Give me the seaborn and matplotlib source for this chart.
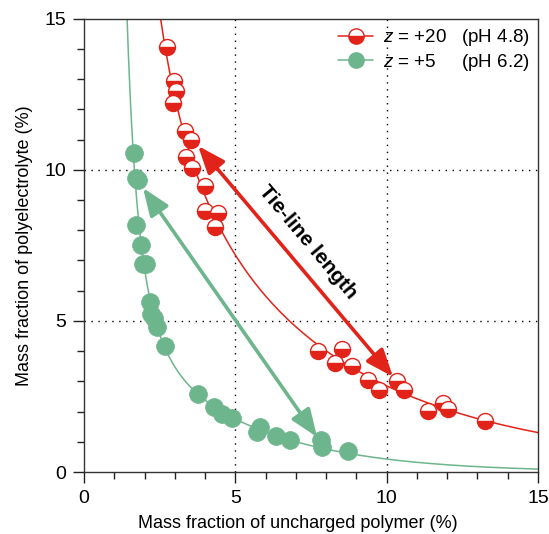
import numpy as np
import matplotlib
matplotlib.use("Agg")
import matplotlib.pyplot as plt
from matplotlib.lines import Line2D
from matplotlib.ticker import MultipleLocator
import seaborn as sns

# data (mass fractions, %)
red_x = [2.74, 2.97, 3.04, 2.94, 3.34, 3.53, 3.37, 3.57, 4.00, 4.00, 4.43, 4.33,
         7.73, 8.52, 8.29, 8.85, 9.38, 9.75, 10.34, 10.57, 11.36, 11.86, 12.03, 13.25]
red_y = [14.07, 12.95, 12.62, 12.22, 11.29, 10.99, 10.43, 10.07, 9.47, 8.64, 8.58, 8.11,
         4.00, 4.07, 3.61, 3.51, 3.05, 2.72, 3.01, 2.72, 2.02, 2.28, 2.09, 1.69]
green_x = [1.65, 1.72, 1.78, 1.72, 1.88, 1.95, 2.05, 2.18, 2.21, 2.31, 2.41, 2.68,
           3.77, 4.29, 4.56, 4.89, 5.72, 5.81, 6.34, 6.81, 7.83, 7.86, 8.72]
green_y = [10.56, 9.74, 9.67, 8.18, 7.52, 6.89, 6.89, 5.63, 5.23, 5.10, 4.80, 4.17,
           2.58, 2.15, 1.92, 1.79, 1.32, 1.49, 1.19, 1.06, 1.06, 0.83, 0.70]

# where the drawn binodal curves run outside the data
red_curve_x = [2.51, 15.0]
red_curve_y = [15.0, 1.30]
green_curve_x = [1.42, 9.37, 14.07, 15.0]
green_curve_y = [15.0, 0.45, 0.13, 0.10]

# tie lines (start, end)
red_tie = [(3.77, 10.79), (10.21, 3.15)]
green_tie = [(1.95, 9.40), (7.70, 1.16)]

red = "#e2231a"
green = "#6db58c"

sns.set_theme(style="ticks")
plt.rcParams["font.family"] = ["Liberation Sans", "DejaVu Sans"]
plt.rcParams["mathtext.fontset"] = "custom"
plt.rcParams["mathtext.it"] = "Liberation Sans:italic"
plt.rcParams["mathtext.rm"] = "Liberation Sans"
plt.rcParams["text.color"] = "black"
plt.rcParams["axes.labelcolor"] = "black"
plt.rcParams["xtick.labelcolor"] = "black"
plt.rcParams["ytick.labelcolor"] = "black"

fig = plt.figure(figsize=(5.49, 5.34), dpi=100)
ax = fig.add_axes([0.153, 0.116, 0.827, 0.849])


def binodal(xs, ys, cx, cy, lo, hi):
    # cubic fit in log-log space through data and curve ends
    lx = np.log(np.r_[xs, cx, cx, cx])
    ly = np.log(np.r_[ys, cy, cy, cy])
    c = np.polyfit(lx, ly, 3)
    xx = np.linspace(lo, hi, 400)
    return xx, np.exp(np.polyval(c, np.log(xx)))


gx, gy = binodal(green_x, green_y, green_curve_x, green_curve_y, 1.3, 15)
rx, ry = binodal(red_x, red_y, red_curve_x, red_curve_y, 2.3, 15)
sns.lineplot(x=gx, y=gy, color=green, lw=1.1, sort=False, estimator=None, ax=ax)
sns.lineplot(x=rx, y=ry, color=red, lw=1.1, sort=False, estimator=None, ax=ax)

sns.scatterplot(x=green_x, y=green_y, color=green, s=165, edgecolor=green,
                linewidth=0.5, ax=ax, zorder=4)
ax.plot(red_x, red_y, ls="none", marker="o", ms=11.5, fillstyle="bottom",
        markerfacecolor=red, markerfacecoloralt="white", markeredgecolor=red,
        markeredgewidth=1.0, zorder=5)

for tie, col in [(red_tie, red), (green_tie, green)]:
    (x0, y0), (x1, y1) = tie
    ax.annotate("", xy=(x0, y0), xytext=(x1, y1),
                arrowprops=dict(arrowstyle="<|-|>,head_length=1.4,head_width=0.55",
                                color=col, lw=2.6, shrinkA=0, shrinkB=0), zorder=6)

ax.text(7.4, 7.6, "Tie-line length", rotation=-50, rotation_mode="anchor",
        ha="center", va="center", fontsize=15, fontweight="bold", color="black")

# dotted reference grid
for v in (5, 10):
    ax.axvline(v, color="black", ls=(0, (1, 4)), lw=1.0, zorder=0)
    ax.axhline(v, color="black", ls=(0, (1, 4)), lw=1.0, zorder=0)

ax.set_xlim(0, 15)
ax.set_ylim(0, 15)
ax.xaxis.set_major_locator(MultipleLocator(5))
ax.yaxis.set_major_locator(MultipleLocator(5))
ax.xaxis.set_minor_locator(MultipleLocator(1))
ax.yaxis.set_minor_locator(MultipleLocator(1))
ax.tick_params(which="major", direction="out", length=8, width=1.0, labelsize=14,
               color="#222222", pad=5)
ax.tick_params(which="minor", direction="out", length=5, width=1.0, color="#222222")
for s in ax.spines.values():
    s.set_linewidth(1.0)
    s.set_color("#333333")

ax.set_xlabel("Mass fraction of uncharged polymer (%)", fontsize=13)
ax.set_ylabel("Mass fraction of polyelectrolyte (%)", fontsize=13, labelpad=8)
ax.xaxis.set_label_coords(0.47, -0.095)

handles = [
    Line2D([], [], color=red, lw=1.1, marker="o", ms=11, fillstyle="bottom",
           markerfacecolor=red, markerfacecoloralt="white", markeredgecolor=red),
    Line2D([], [], color=green, lw=1.1, marker="o", ms=11, markerfacecolor=green,
           markeredgecolor=green),
]
labels = ["$z$ = +20   (pH 4.8)", "$z$ = +5     (pH 6.2)"]
ax.legend(handles, labels, loc="upper right", frameon=False, fontsize=13.5,
          handlelength=1.9, handletextpad=0.5, borderaxespad=0.05, labelspacing=0.2)

fig.savefig("out.png", dpi=100)
